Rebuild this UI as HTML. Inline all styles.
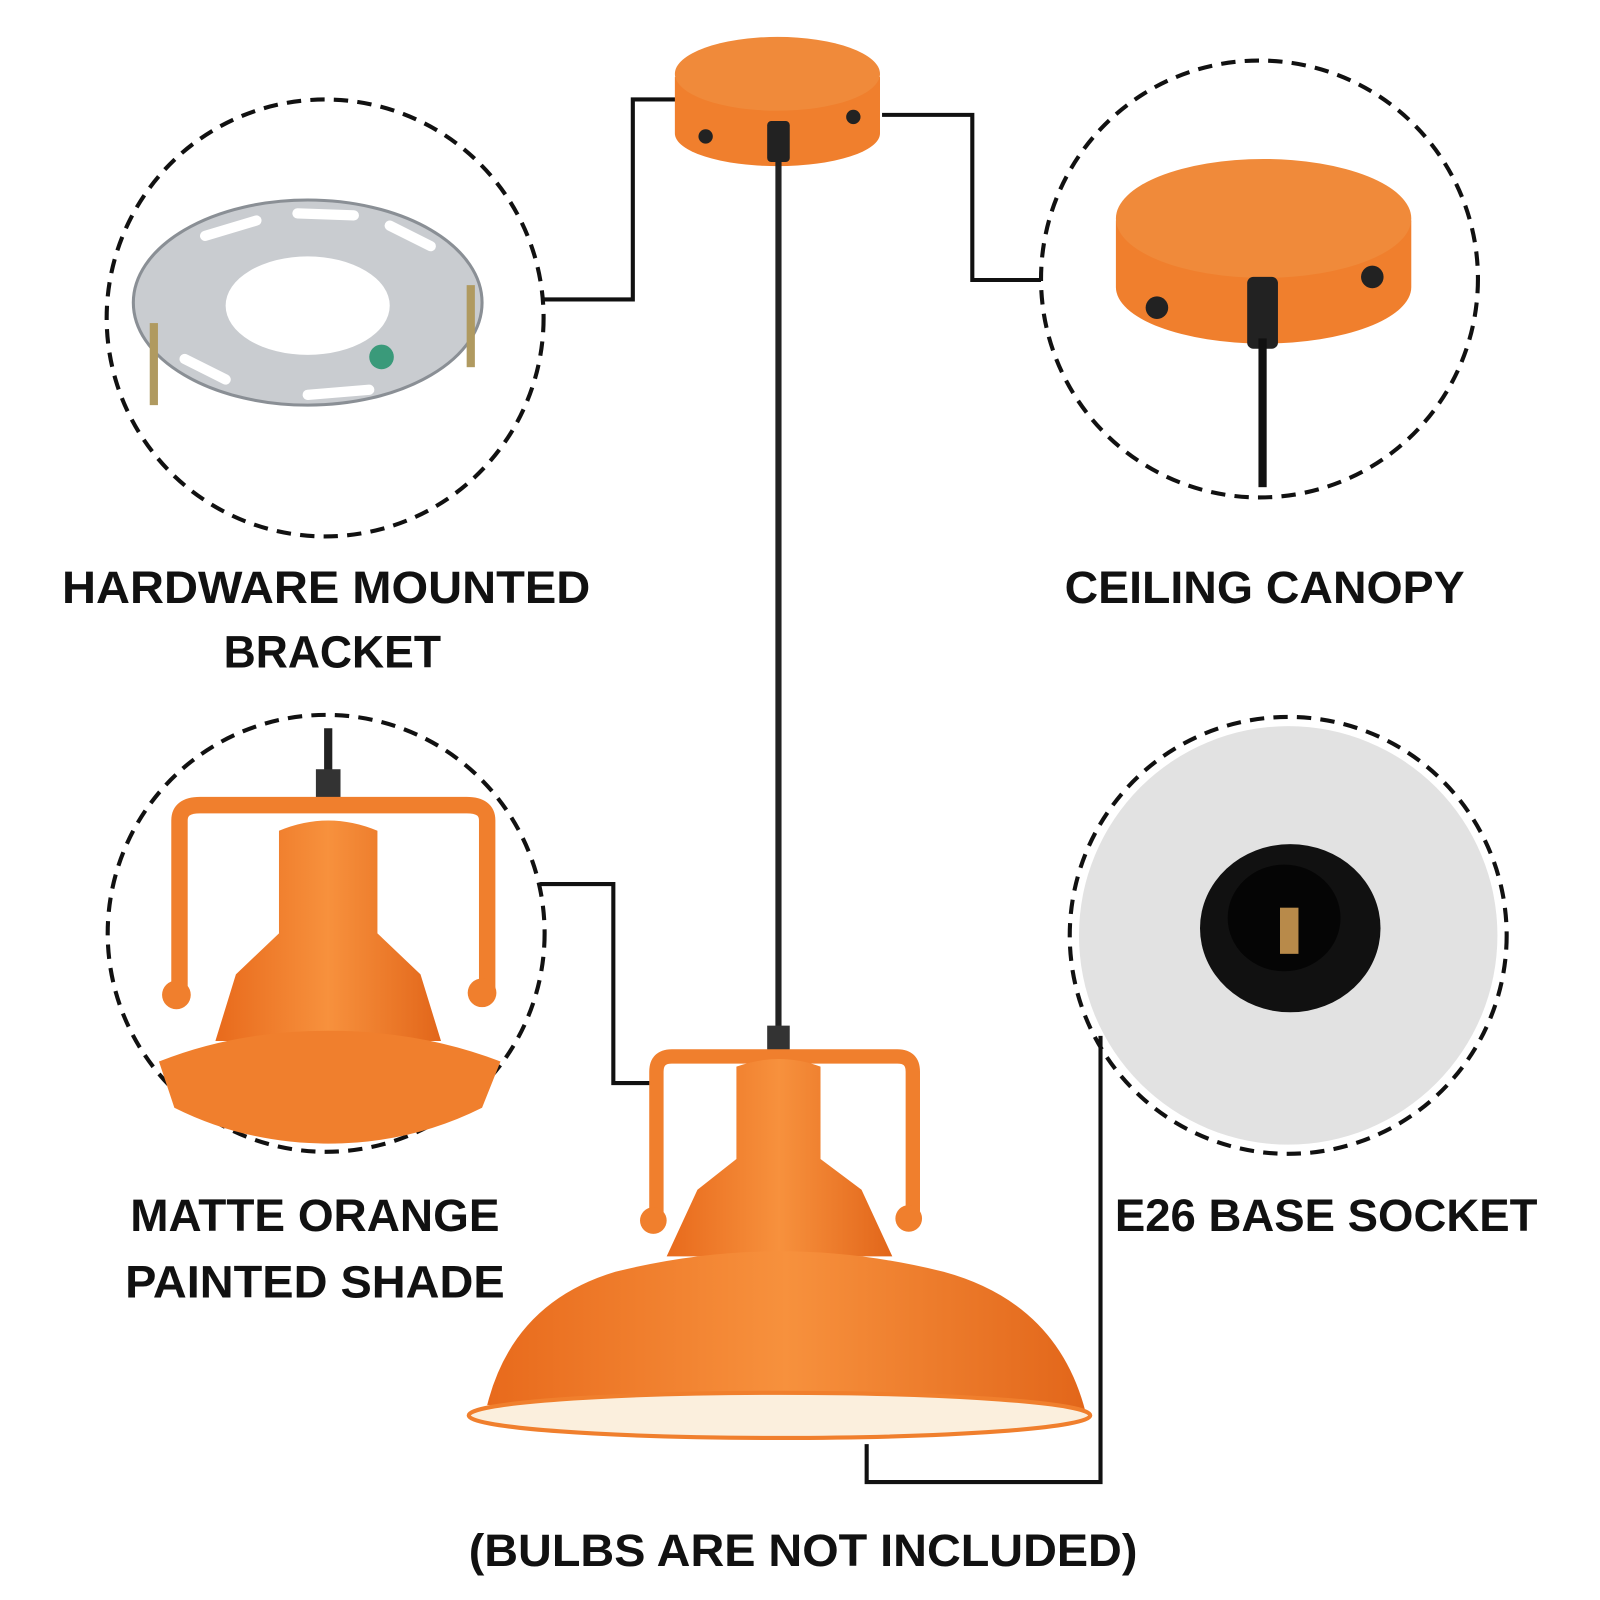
<!DOCTYPE html>
<html><head><meta charset="utf-8"><style>
html,body{margin:0;padding:0;background:#fff;}
svg{display:block;}
text{font-family:"Liberation Sans","DejaVu Sans",sans-serif;font-weight:bold;fill:#111;}
</style></head><body>
<svg width="1600" height="1600" viewBox="0 0 1560 1560" xmlns="http://www.w3.org/2000/svg">
<defs>
<linearGradient id="og" x1="0" x2="1"><stop offset="0" stop-color="#e86a1c"/><stop offset="0.5" stop-color="#f7913d"/><stop offset="1" stop-color="#e2661a"/></linearGradient>
</defs>
<g fill="none" stroke="#111" stroke-width="4">
<polyline points="530,292 617,292 617,97 660,97"/>
<polyline points="860,112 948,112 948,273 1015,273"/>
<polyline points="527,862 598,862 598,1056 636,1056"/>
<polyline points="845,1408 845,1445 1073,1445 1073,1010"/>
</g>
<circle cx="1256" cy="912" r="204" fill="#e2e2e2"/>
<g fill="none" stroke="#111" stroke-width="4" stroke-dasharray="14 9">
<circle cx="317" cy="310" r="213"/>
<circle cx="1228" cy="272" r="213"/>
<circle cx="318" cy="910" r="213"/>
<circle cx="1256" cy="912" r="213"/>
</g>
<g>
<ellipse cx="300" cy="295" rx="170" ry="100" fill="#c9ccd0" stroke="#8a8f95" stroke-width="3"/>
<ellipse cx="300" cy="298" rx="80" ry="48" fill="#fff"/>
<g stroke="#fff" stroke-width="10" stroke-linecap="round">
<line x1="200" y1="230" x2="250" y2="215"/><line x1="290" y1="208" x2="345" y2="210"/><line x1="380" y1="220" x2="420" y2="240"/>
<line x1="180" y1="350" x2="220" y2="370"/><line x1="300" y1="385" x2="360" y2="380"/>
</g>
<rect x="146" y="315" width="8" height="80" fill="#b09a60"/>
<rect x="455" y="278" width="8" height="80" fill="#b09a60"/>
<circle cx="372" cy="348" r="12" fill="#3a9a7a"/>
</g>
<path d="M1088,215 L1088,280 A144,55 0 0 0 1376,280 L1376,215 Z" fill="#f07f2d"/>
<ellipse cx="1232" cy="213" rx="144" ry="58" fill="#f08a3a"/>
<circle cx="1128" cy="300" r="11" fill="#222"/><circle cx="1338" cy="270" r="11" fill="#222"/>
<rect x="1216" y="270" width="30" height="70" rx="6" fill="#222"/>
<rect x="1227" y="330" width="8" height="145" fill="#111"/>
<ellipse cx="1258" cy="905" rx="88" ry="82" fill="#111"/>
<ellipse cx="1252" cy="895" rx="55" ry="52" fill="#050505"/>
<rect x="1248" y="885" width="18" height="45" fill="#b88a4a"/>
<line x1="320" y1="710" x2="320" y2="760" stroke="#222" stroke-width="8"/>
<rect x="308" y="750" width="24" height="30" fill="#333"/>
<path d="M175,970 L175,800 Q175,785 195,785 L455,785 Q475,785 475,800 L475,965" fill="none" stroke="#f07f2d" stroke-width="16"/>
<circle cx="172" cy="970" r="14" fill="#f07f2d"/><circle cx="470" cy="968" r="14" fill="#f07f2d"/>
<path d="M272,910 L272,810 Q320,790 368,810 L368,910 L410,950 L430,1015 L210,1015 L230,950 Z" fill="url(#og)"/>
<path d="M155,1035 Q230,1005 320,1005 Q410,1005 488,1035 L470,1080 Q400,1115 320,1115 Q240,1115 170,1080 Z" fill="#f07f2d"/>
<path d="M658,75 L658,130 A100,32 0 0 0 858,130 L858,75 Z" fill="#f07f2d"/>
<ellipse cx="758" cy="72" rx="100" ry="36" fill="#f08a3a"/>
<circle cx="688" cy="133" r="7" fill="#222"/><circle cx="832" cy="114" r="7" fill="#222"/>
<rect x="748" y="118" width="22" height="40" rx="4" fill="#222"/>
<rect x="756" y="150" width="6" height="860" fill="#222"/>
<rect x="748" y="1000" width="22" height="25" fill="#333"/>
<path d="M640,1190 L640,1045 Q640,1030 655,1030 L875,1030 Q890,1030 890,1045 L890,1185" fill="none" stroke="#f07f2d" stroke-width="14"/>
<circle cx="637" cy="1190" r="13" fill="#f07f2d"/><circle cx="886" cy="1188" r="13" fill="#f07f2d"/>
<path d="M718,1130 L718,1040 Q760,1025 800,1040 L800,1130 L840,1160 L870,1225 L650,1225 L680,1160 Z" fill="url(#og)"/>
<path d="M475,1370 Q500,1270 600,1240 Q760,1200 920,1240 Q1030,1270 1058,1375 Z" fill="url(#og)"/>
<ellipse cx="760" cy="1380" rx="303" ry="22" fill="#fbefdd" stroke="#f07f2d" stroke-width="4"/>
<text x="318" y="588" font-size="44" text-anchor="middle" textLength="515" lengthAdjust="spacingAndGlyphs">HARDWARE MOUNTED</text>
<text x="324" y="651" font-size="44" text-anchor="middle" textLength="212" lengthAdjust="spacingAndGlyphs">BRACKET</text>
<text x="1233" y="588" font-size="44" text-anchor="middle" textLength="390" lengthAdjust="spacingAndGlyphs">CEILING CANOPY</text>
<text x="307" y="1200" font-size="44" text-anchor="middle" textLength="360" lengthAdjust="spacingAndGlyphs">MATTE ORANGE</text>
<text x="307" y="1265" font-size="44" text-anchor="middle" textLength="370" lengthAdjust="spacingAndGlyphs">PAINTED SHADE</text>
<text x="1293" y="1200" font-size="44" text-anchor="middle" textLength="412" lengthAdjust="spacingAndGlyphs">E26 BASE SOCKET</text>
<text x="783" y="1527" font-size="44" text-anchor="middle" textLength="652" lengthAdjust="spacingAndGlyphs">(BULBS ARE NOT INCLUDED)</text>
</svg>
</body></html>
